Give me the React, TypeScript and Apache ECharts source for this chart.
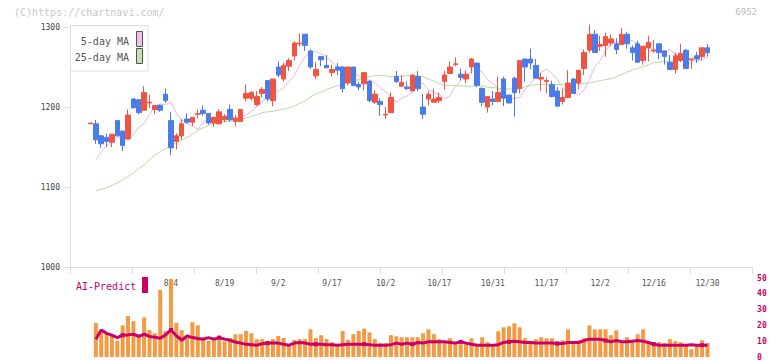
import React, { useEffect, useRef } from 'react';
import * as echarts from 'echarts';

const DATES = [
  '7/11', '7/14', '7/15', '7/16', '7/17', '7/18', '7/22', '7/23', '7/24', '7/25', '7/28', '7/29', '7/30', '7/31',
  '8/1', '8/4', '8/5', '8/6', '8/7', '8/8', '8/12', '8/13', '8/14', '8/15', '8/18', '8/19', '8/20', '8/21', '8/22', '8/25', '8/26', '8/27', '8/28', '8/29',
  '9/1', '9/2', '9/3', '9/4', '9/5', '9/8', '9/9', '9/10', '9/11', '9/12', '9/16', '9/17', '9/18', '9/19', '9/22', '9/24', '9/25', '9/26', '9/29', '9/30',
  '10/1', '10/2', '10/3', '10/6', '10/7', '10/8', '10/9', '10/10', '10/14', '10/15', '10/16', '10/17', '10/20', '10/21', '10/22', '10/23', '10/24', '10/27', '10/28', '10/29', '10/30', '10/31',
  '11/4', '11/5', '11/6', '11/7', '11/10', '11/11', '11/12', '11/13', '11/14', '11/17', '11/18', '11/19', '11/20', '11/21', '11/25', '11/26', '11/27', '11/28',
  '12/1', '12/2', '12/3', '12/4', '12/5', '12/8', '12/9', '12/10', '12/11', '12/12', '12/15', '12/16', '12/17', '12/18', '12/19', '12/22', '12/23', '12/24', '12/25', '12/26', '12/29', '12/30',
];

const X_TICK_LABELS = ['8/4', '8/19', '9/2', '9/17', '10/2', '10/17', '10/31', '11/17', '12/2', '12/16', '12/30'];

const OPEN = [
  1179, 1179, 1164, 1162, 1156, 1183, 1170, 1160, 1210, 1209, 1196, 1205, 1197, 1202, 1216, 1183, 1157, 1164, 1185, 1181,
  1191, 1196, 1192, 1180, 1179, 1184, 1197, 1182, 1182, 1211, 1211, 1203, 1217, 1233, 1208, 1250, 1235, 1251, 1264, 1279,
  1291, 1270, 1239, 1263, 1252, 1243, 1250, 1250, 1230, 1250, 1228, 1229, 1232, 1206, 1207, 1190, 1193, 1238, 1226, 1225,
  1220, 1238, 1200, 1210, 1206, 1208, 1232, 1242, 1253, 1241, 1235, 1250, 1255, 1223, 1200, 1210, 1207, 1235, 1215, 1236,
  1223, 1260, 1260, 1252, 1235, 1232, 1228, 1220, 1207, 1212, 1235, 1230, 1248, 1271, 1291, 1276, 1277, 1280, 1279, 1278,
  1291, 1274, 1279, 1258, 1274, 1270, 1279, 1270, 1256, 1247, 1258, 1271, 1259, 1264, 1263, 1274,
];
const CLOSE = [
  1180, 1159, 1154, 1157, 1166, 1164, 1152, 1190, 1199, 1193, 1218, 1206, 1202, 1196, 1208, 1149, 1164, 1179, 1181, 1187,
  1192, 1192, 1180, 1187, 1194, 1188, 1184, 1186, 1197, 1217, 1218, 1213, 1222, 1210, 1235, 1240, 1252, 1258, 1280, 1280,
  1277, 1250, 1247, 1259, 1249, 1247, 1246, 1223, 1250, 1227, 1225, 1243, 1208, 1216, 1203, 1191, 1212, 1232, 1231, 1223,
  1240, 1223, 1191, 1216, 1210, 1212, 1240, 1250, 1254, 1237, 1241, 1260, 1227, 1206, 1213, 1207, 1218, 1211, 1205, 1218,
  1258, 1250, 1255, 1236, 1237, 1233, 1213, 1201, 1212, 1230, 1217, 1246, 1268, 1291, 1268, 1278, 1288, 1285, 1272, 1291,
  1279, 1268, 1256, 1276, 1281, 1271, 1268, 1263, 1247, 1264, 1267, 1248, 1260, 1260, 1274, 1268,
];
const LOW = [
  1179, 1154, 1149, 1150, 1150, 1163, 1145, 1160, 1198, 1191, 1196, 1199, 1191, 1194, 1205, 1140, 1147, 1159, 1179, 1176,
  1186, 1189, 1178, 1175, 1178, 1181, 1182, 1176, 1182, 1207, 1208, 1201, 1212, 1207, 1201, 1237, 1232, 1245, 1258, 1276,
  1270, 1248, 1235, 1251, 1249, 1238, 1240, 1218, 1227, 1226, 1221, 1221, 1206, 1204, 1189, 1185, 1193, 1230, 1226, 1221,
  1220, 1220, 1185, 1202, 1206, 1205, 1222, 1242, 1251, 1233, 1230, 1242, 1225, 1201, 1193, 1202, 1206, 1201, 1205, 1188,
  1217, 1232, 1247, 1236, 1220, 1217, 1212, 1201, 1203, 1211, 1217, 1222, 1240, 1268, 1268, 1270, 1263, 1276, 1266, 1278,
  1273, 1258, 1256, 1253, 1257, 1268, 1260, 1253, 1247, 1242, 1256, 1248, 1248, 1255, 1258, 1263,
];
const HIGH = [
  1180, 1184, 1165, 1167, 1166, 1184, 1170, 1197, 1211, 1210, 1226, 1215, 1202, 1203, 1223, 1194, 1167, 1185, 1192, 1187,
  1197, 1202, 1192, 1188, 1197, 1191, 1203, 1190, 1197, 1228, 1220, 1220, 1225, 1233, 1235, 1257, 1255, 1261, 1282, 1292,
  1291, 1272, 1256, 1263, 1265, 1253, 1255, 1251, 1250, 1250, 1231, 1243, 1234, 1221, 1211, 1200, 1218, 1245, 1240, 1232,
  1240, 1245, 1216, 1220, 1223, 1218, 1245, 1257, 1262, 1248, 1246, 1261, 1255, 1225, 1213, 1220, 1238, 1238, 1215, 1238,
  1258, 1260, 1273, 1260, 1243, 1237, 1233, 1225, 1223, 1246, 1236, 1246, 1272, 1303, 1296, 1289, 1293, 1291, 1286, 1299,
  1294, 1277, 1283, 1276, 1289, 1284, 1279, 1270, 1265, 1268, 1279, 1272, 1260, 1269, 1274, 1279,
];

const MA5 = [
  null, 1134, 1144, 1152, 1157, 1163.2, 1160, 1158.6, 1165.8, 1174.2, 1179.6, 1190.4, 1201.2, 1203.6, 1203, 1206, 1192.2, 1183.8, 1179.2, 1176.2,
  1172, 1180.6, 1186.2, 1186.4, 1187.6, 1189, 1188.2, 1186.6, 1187.8, 1189.8, 1194.4, 1200.4, 1206.2, 1213.4, 1216, 1219.6, 1224, 1231.8, 1239, 1253,
  1262, 1269.4, 1269, 1266.8, 1262.6, 1256.4, 1250.4, 1249.6, 1244.8, 1243, 1238.6, 1234.2, 1233.6, 1230.6, 1223.8, 1219, 1212.2, 1206, 1210.8, 1213.8,
  1217.8, 1227.6, 1229.8, 1221.6, 1218.6, 1216, 1210.4, 1213.8, 1225.6, 1233.2, 1238.6, 1244.4, 1248.4, 1243.8, 1234.2, 1229.4, 1222.6, 1214.2, 1211, 1210.8,
  1211.8, 1222, 1228.4, 1237.2, 1243.4, 1247.2, 1242.2, 1234.8, 1224, 1219.2, 1217.8, 1214.6, 1221.2, 1234.6, 1250.4, 1258, 1270.2, 1278.6, 1282, 1278.2,
  1282.8, 1283, 1279, 1273.2, 1274, 1272, 1270.4, 1270.4, 1271.8, 1266, 1262.6, 1261.8, 1257.8, 1257.2, 1259.8, 1261.8,
];
const MA25 = [
  null, 1095, 1097, 1099, 1102, 1105, 1109, 1113, 1118, 1123, 1128, 1134, 1140, 1144, 1148, 1152, 1155, 1158, 1162, 1166,
  1171, 1174, 1177, 1179, 1181, 1182, 1182.3, 1183.3, 1184.6, 1186.2, 1188.2, 1190.4, 1192.8, 1194.1, 1194.5, 1196.2, 1197.1, 1198.9, 1201.2, 1204.5,
  1207.4, 1212.5, 1216, 1218.7, 1221.8, 1224.3, 1226.5, 1228.6, 1230.4, 1232.9, 1234.2, 1235.7, 1238, 1238.9, 1239.7, 1239.1, 1238, 1238, 1238.4, 1239.2,
  1238.8, 1238.8, 1237.6, 1234.9, 1232.4, 1229.6, 1227, 1226.6, 1226.7, 1226.5, 1226, 1225.8, 1226.3, 1226.5, 1224.7, 1224.2, 1223.4, 1222.4, 1222.6, 1222.1,
  1222.7, 1225.4, 1226.9, 1227.8, 1228, 1228.6, 1228.3, 1227.9, 1228.3, 1228.2, 1229, 1229.2, 1229.4, 1230.1, 1231.6, 1232.8, 1234.3, 1235.4, 1237.8, 1240.4,
  1243.5, 1246.4, 1248.4, 1250.2, 1253, 1255.6, 1256.1, 1256.8, 1257.1, 1257.6, 1258.6, 1260, 1261.4, 1263.8, 1265.7, 1267.4,
];

const VOLUME = [
  null, 21.5, 17, 15, 13.8, 10.2, 20, 26, 22.7, 14.2, 25, 17, 15, 42.5, 16.5, 49.4, 21.5, 17, 12, 22,
  20, 12.5, 10.2, 11, 12, 10, 12, 14.4, 14.4, 16.5, 15, 11.3, 11.3, 10.2, 11.3, 13.3, 12, 8, 10.8, 11.3,
  11.3, 17.5, 12, 13.8, 11.3, 9.4, 7.5, 16.5, 10.8, 14.4, 16.5, 18, 15.6, 11.3, 8.8, 8.8, 13.8, 13.1, 12.5, 12.5,
  12.5, 12.5, 15, 17.5, 14.4, 11.3, 10.2, 11.9, 8.8, 8.1, 8.1, 11.9, 8.1, 12.5, 9.4, 8.1, 16.3, 18.8, 19.4, 21.3,
  18.8, 11.9, 9.4, 11.3, 12.5, 11.9, 11.9, 10, 10.6, 17.5, 8.1, 10.6, 11.9, 20, 17.5, 17.5, 17.5, 13.8, 16.9, 8.8,
  12.5, 10, 14.4, 17.5, 9.4, 9.4, 9.4, 8.8, 11.3, 10, 9.4, 8.1, 5, 8.1, 10.6, 8.8,
];
const AI_PREDICT = [
  null, 11.3, 17.1, 15, 13.8, 12.3, 13.8, 14, 14.4, 13, 14.4, 13, 12.5, 11.9, 14, 17.1, 13.5, 10.6, 13.3, 12.3,
  11.7, 11.3, 12.3, 11.3, 12.3, 11.3, 10.6, 9.5, 8.8, 8.1, 7.8, 7.5, 8.4, 8.8, 8.8, 8.8, 8.1, 7.5, 8.8, 9.2,
  8.8, 8.1, 8.1, 8.1, 7.8, 7.8, 7.5, 7.8, 8.1, 8.1, 8.1, 8.1, 7.8, 7.5, 7.5, 7.5, 7.8, 8.8, 8.1, 8.8,
  8.1, 9.2, 8.8, 9.6, 9.6, 9.6, 9.6, 9.2, 8.8, 9.6, 8.8, 8.1, 7.5, 7.5, 7.5, 7.5, 7.8, 9.2, 9.6, 10,
  9.6, 9.2, 9.2, 8.8, 8.8, 8.8, 8.8, 8.5, 8.5, 9.2, 9.2, 9.2, 10.4, 11.3, 11.3, 11.3, 10.4, 9.6, 10.4, 9.6,
  9.6, 10, 10.4, 10, 9.2, 8.1, 7.5, 7.5, 7.5, 7.5, 7.5, 7.5, 7.8, 7.5, 7.5, 7.5,
];

const PAD_LEFT = 3;
const PAD_RIGHT = 8;

const RED = '#f25442';
const BLUE = '#4a7cea';
const MAGENTA = '#cc0066';
const ORANGE = '#f29a44';
const MONO = 'DejaVu Sans Mono';

export default function App() {
  const ref = useRef<HTMLDivElement>(null);

  useEffect(() => {
    if (!ref.current) return;
    const chart = echarts.init(ref.current, null, { renderer: 'svg' });

    const cats = [
      ...Array.from({ length: PAD_LEFT }, (_, k) => `padL${k}`),
      ...DATES,
      ...Array.from({ length: PAD_RIGHT }, (_, k) => `padR${k}`),
    ];
    const candleData = DATES.map((_, i) => [i + PAD_LEFT, OPEN[i], CLOSE[i], LOW[i], HIGH[i]]);
    const pair = (arr: (number | null)[]) =>
      arr.map((v, i) => [i + PAD_LEFT, v == null ? '-' : v]).filter((p) => p[1] !== '-');

    const gridLeft = 71.7;
    const gridWidth = 681.4;

    const option: any = {
      animation: false,
      backgroundColor: '#ffffff',
      grid: [
        { left: gridLeft, width: gridWidth, top: 27, height: 240 },
        { left: 70, width: 682, top: 27, height: 240 },
        { left: gridLeft, width: gridWidth, top: 278, height: 80 },
      ],
      xAxis: [
        {
          type: 'category',
          gridIndex: 0,
          data: cats,
          boundaryGap: true,
          axisLine: { show: false },
          axisTick: { show: false },
          splitLine: { show: false },
          axisLabel: {
            interval: (_idx: number, value: string) => X_TICK_LABELS.includes(value),
            color: '#555555',
            fontFamily: MONO,
            fontSize: 8,
            margin: 12,
          },
        },
        {
          type: 'value',
          gridIndex: 1,
          min: 0,
          max: 11,
          interval: 1,
          axisLine: { show: true, lineStyle: { color: '#dddddd', width: 1 } },
          axisTick: { show: true, length: 7, lineStyle: { color: '#dddddd' } },
          axisLabel: { show: false },
          splitLine: { show: false },
        },
        {
          type: 'category',
          gridIndex: 2,
          data: cats,
          boundaryGap: true,
          show: false,
        },
      ],
      yAxis: [
        { type: 'value', gridIndex: 0, min: 1000, max: 1300, show: false },
        {
          type: 'value',
          gridIndex: 1,
          min: 1000,
          max: 1300,
          interval: 100,
          axisLine: { show: true, lineStyle: { color: '#dddddd', width: 1 } },
          axisTick: { show: true, length: 6, lineStyle: { color: '#dddddd' } },
          axisLabel: {
            color: '#444444',
            fontFamily: MONO,
            fontSize: 8,
            margin: 10,
            formatter: (v: number) => String(v),
          },
          splitLine: { show: false },
        },
        {
          type: 'value',
          gridIndex: 2,
          min: 0,
          max: 50,
          interval: 10,
          position: 'right',
          axisLine: { show: false },
          axisTick: { show: false },
          splitLine: { show: false },
          axisLabel: {
            color: MAGENTA,
            fontFamily: MONO,
            fontSize: 8,
            fontWeight: 'bold',
            margin: 4,
            formatter: (v: number) => String(v),
          },
        },
      ],
      series: [
        {
          name: '25-day MA',
          type: 'line',
          xAxisIndex: 0,
          yAxisIndex: 0,
          data: pair(MA25),
          symbol: 'none',
          lineStyle: { color: '#b4dca4', width: 1 },
          z: 1,
        },
        {
          name: '5-day MA',
          type: 'line',
          xAxisIndex: 0,
          yAxisIndex: 0,
          data: pair(MA5),
          symbol: 'none',
          lineStyle: { color: '#e8b4e8', width: 1 },
          z: 1,
        },
        {
          name: 'price',
          type: 'candlestick',
          xAxisIndex: 0,
          yAxisIndex: 0,
          data: candleData,
          encode: { x: 0, y: [1, 2, 3, 4] },
          barWidth: 5,
          clip: false,
          itemStyle: {
            color: RED,
            color0: BLUE,
            borderColor: RED,
            borderColor0: BLUE,
            borderWidth: 1,
          },
          z: 3,
        },
        {
          name: 'volume',
          type: 'bar',
          xAxisIndex: 2,
          yAxisIndex: 2,
          data: pair(VOLUME),
          barWidth: 4,
          itemStyle: { color: ORANGE },
          z: 2,
        },
        {
          name: 'AI-Predict',
          type: 'line',
          xAxisIndex: 2,
          yAxisIndex: 2,
          data: pair(AI_PREDICT),
          symbol: 'rect',
          symbolSize: 4,
          showSymbol: true,
          lineStyle: { color: MAGENTA, width: 3 },
          itemStyle: { color: MAGENTA },
          z: 4,
        },
      ],
      graphic: [
        {
          type: 'text',
          left: 14,
          top: 7,
          style: { text: '(C)https://chartnavi.com/', fill: '#c8c8c8', font: `10px "${MONO}"` },
          z: 10,
        },
        {
          type: 'text',
          right: 15,
          top: 7,
          style: { text: '6952', fill: '#bbbbbb', font: `9px "${MONO}"` },
          z: 10,
        },
        {
          type: 'rect',
          shape: { x: 70.5, y: 25.5, width: 77.5, height: 45.5 },
          style: { fill: '#ffffff', stroke: '#dddddd', lineWidth: 1 },
          z: 10,
        },
        {
          type: 'text',
          x: 129,
          y: 41,
          style: { text: '5-day MA', fill: '#555555', font: `10px "${MONO}"`, align: 'right', verticalAlign: 'middle' },
          z: 11,
        },
        {
          type: 'text',
          x: 129,
          y: 57,
          style: { text: '25-day MA', fill: '#555555', font: `10px "${MONO}"`, align: 'right', verticalAlign: 'middle' },
          z: 11,
        },
        {
          type: 'rect',
          shape: { x: 136.5, y: 31.5, width: 6, height: 15 },
          style: { fill: '#f0c0ee', stroke: '#555555', lineWidth: 1 },
          z: 11,
        },
        {
          type: 'rect',
          shape: { x: 136.5, y: 48.5, width: 6, height: 15 },
          style: { fill: '#c0e0b0', stroke: '#555555', lineWidth: 1 },
          z: 11,
        },
        {
          type: 'text',
          x: 76,
          y: 286,
          style: { text: 'AI-Predict', fill: MAGENTA, font: `10px "${MONO}"`, verticalAlign: 'middle' },
          z: 11,
        },
        {
          type: 'rect',
          shape: { x: 142, y: 277, width: 6, height: 16 },
          style: { fill: MAGENTA },
          z: 11,
        },
      ],
    };

    chart.setOption(option);
    return () => chart.dispose();
  }, []);

  return <div ref={ref} style={{ position: 'fixed', left: 0, top: 0, width: 772, height: 361 }} />;
}
